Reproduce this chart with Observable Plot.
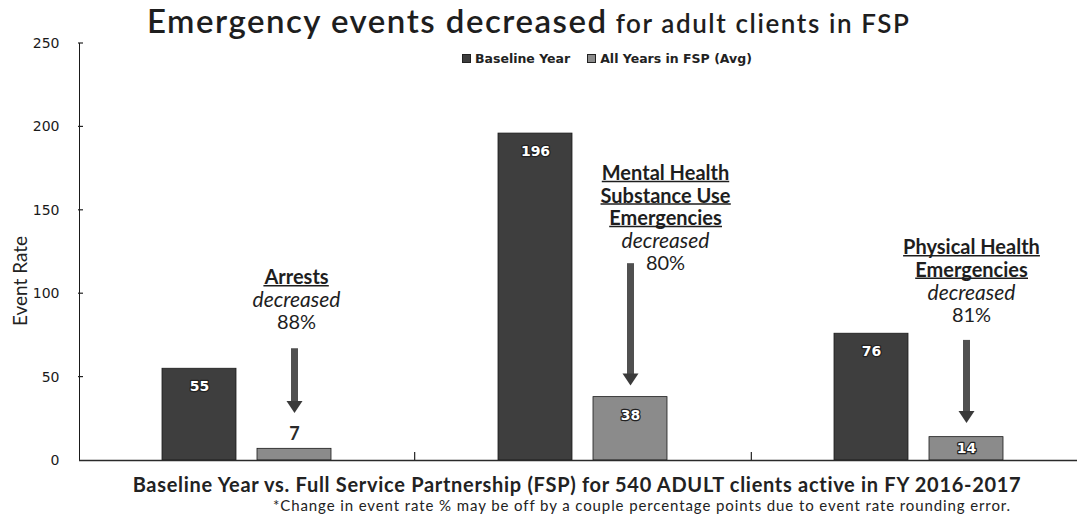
<!DOCTYPE html>
<html>
<head>
<meta charset="utf-8">
<script src="https://cdn.jsdelivr.net/npm/d3@7"></script>
<script src="https://cdn.jsdelivr.net/npm/@observablehq/plot@0.6"></script>
<style>
  html, body { margin: 0; padding: 0; background: #fff; }
  #wrap { position: relative; width: 1077px; height: 516px; background: #fff; overflow: hidden; font-family: Lato, "Open Sans", sans-serif; color: #1e1e1e; }
  #chart { position: absolute; left: 0; top: 0; }
  .abs { position: absolute; white-space: nowrap; }
  #title { left: 147px; top: 0px; line-height: normal; color: #1e1e1e; }
  #title .big { font-size: 33px; font-weight: 600; letter-spacing: 1.5px; }
  #title .small { font-size: 26px; font-weight: 600; letter-spacing: 1.6px; }
  #legend { left: 462px; top: 51px; font-family: "DejaVu Sans", sans-serif; font-weight: bold; font-size: 12.5px; color: #222; display: flex; gap: 17px; align-items: center; }
  #legend .item { display: flex; align-items: center; gap: 4px; }
  #legend .sw { width: 7px; height: 7px; border: 1px solid #222; }
  #ylabel { left: 19px; top: 281px; transform: translate(-50%, -50%) rotate(-90deg); font-size: 19px; color: #222; }
  #xlabel { left: 577px; top: 484px; transform: translate(-50%, -50%); font-size: 20px; font-weight: bold; letter-spacing: 0.7px; color: #222; }
  #foot { left: 642px; top: 505px; transform: translate(-50%, -50%); font-size: 15px; letter-spacing: 0.9px; color: #222; }
</style>
</head>
<body>
<div id="wrap">
  <div id="chart"></div>
  <div id="title" class="abs"><span class="big">Emergency events decreased</span><span class="small"> for adult clients in FSP</span></div>
  <div id="legend" class="abs"></div>
  <div id="ylabel" class="abs">Event Rate</div>
  <div id="xlabel" class="abs"></div>
  <div id="foot" class="abs"></div>
</div>
<script>
// ---------------- data ----------------
const groups = ["Arrests", "Mental Health Substance Use Emergencies", "Physical Health Emergencies"];
const series = ["Baseline Year", "All Years in FSP (Avg)"];
const baselineValues = [55, 196, 76];
const fspValues = [7, 38, 14];
const pctLabels = ["88%", "80%", "81%"];
const annoTitles = [["Arrests"], ["Mental Health", "Substance Use", "Emergencies"], ["Physical Health", "Emergencies"]];
const yTicks = [0, 50, 100, 150, 200, 250];
const xTitle = "Baseline Year vs. Full Service Partnership (FSP) for 540 ADULT clients active in FY 2016-2017";
const footnote = "*Change in event rate % may be off by a couple percentage points due to event rate rounding error.";

// ---------------- layout (annotation placement, in y units) ----------------
const annoLayout = [
  {top: 109.5, dx: 2, arrowTop: 67, arrowTip: 28.5},
  {top: 172, dx: 35, arrowTop: 118, arrowTip: 45},
  {top: 127.5, dx: 5, arrowTop: 72, arrowTip: 22.5}
];
const W = 1077, H = 470, mTop = 43, mBottom = 10, mLeft = 78;
const pxPerUnit = (H - mTop - mBottom) / 250;
const lineUnit = 22.5 / pxPerUnit;

const colors = ["#3e3e3e", "#8b8b8b"];

const rows = groups.flatMap((g, i) => [
  {group: g, series: series[0], value: baselineValues[i]},
  {group: g, series: series[1], value: fspValues[i]}
]);
const insideRows = rows.filter(d => d.value * pxPerUnit >= 30);
const midRows = rows.filter(d => d.value * pxPerUnit < 30 && d.value * pxPerUnit >= 18);
const aboveRows = rows.filter(d => d.value * pxPerUnit < 18);

// down-pointing triangle, anchored at its tip
const downTri = {
  draw(ctx, size) {
    const r = Math.sqrt(size / Math.PI);
    ctx.moveTo(0, 0);
    ctx.lineTo(-r, -1.5 * r);
    ctx.lineTo(r, -1.5 * r);
    ctx.closePath();
  }
};

const annoMarks = groups.flatMap((g, i) => {
  const L = annoLayout[i];
  const titles = annoTitles[i].map((t, k) => ({group: g, x: series[1], text: t, y: L.top - k * lineUnit}));
  const n = annoTitles[i].length;
  const dec = [{group: g, x: series[1], text: "decreased", y: L.top - n * lineUnit}];
  const pct = [{group: g, x: series[1], text: pctLabels[i], y: L.top - (n + 1) * lineUnit}];
  const arrow = [{group: g, x: series[1], y1: L.arrowTop, y2: L.arrowTip + 8 / pxPerUnit, tip: L.arrowTip}];
  const common = {fx: "group", x: "x", y: "y", text: "text", dx: L.dx, fontSize: 20, fill: "#1e1e1e", fontFamily: "Lato, sans-serif"};
  return [
    Plot.ruleX(arrow, {fx: "group", x: "x", y1: "y1", y2: "y2", stroke: "#505050", strokeWidth: 7}),
    Plot.dot(arrow, {fx: "group", x: "x", y: "tip", r: 8, symbol: downTri, fill: "#3a3a3a", stroke: "none"}),
    Plot.text(titles, {...common, fontWeight: "bold", ariaLabel: "anno-title"}),
    Plot.text(dec, {...common, fontStyle: "italic", fontSize: 21}),
    Plot.text(pct, {...common})
  ];
});

const chart = Plot.plot({
  width: W,
  height: H,
  marginTop: mTop,
  marginBottom: mBottom,
  marginLeft: mLeft,
  marginRight: 0,
  style: {fontFamily: "DejaVu Sans, sans-serif", fontSize: "14px", color: "#1a1a1a", background: "transparent"},
  fx: {domain: groups, range: [mLeft, 1088], paddingInner: 0, paddingOuter: 0, axis: null, label: null},
  x: {domain: series, paddingInner: 0.22, paddingOuter: 0.87, axis: null, label: null},
  y: {domain: [0, 250], ticks: yTicks, tickSize: 0, tickPadding: 20, line: true, label: null, tickFormat: d => String(d)},
  color: {domain: series, range: colors},
  marks: [
    Plot.barY(rows, {fx: "group", x: "series", y: "value", fill: "series", stroke: "#1a1a1a", strokeWidth: 0.8}),
    Plot.ruleY([0], {stroke: "#2a2a2a", strokeWidth: 1.5}),
    Plot.text(insideRows, {fx: "group", x: "series", y: "value", text: d => String(d.value), dy: 18, fill: "#fff", stroke: "#222", strokeWidth: 2.5, paintOrder: "stroke", fontWeight: "bold", fontSize: 14, fontFamily: "DejaVu Sans, sans-serif"}),
    Plot.text(midRows, {fx: "group", x: "series", y: d => d.value / 2, text: d => String(d.value), fill: "#fff", stroke: "#222", strokeWidth: 2.5, paintOrder: "stroke", fontWeight: "bold", fontSize: 14, fontFamily: "DejaVu Sans, sans-serif"}),
    Plot.text(aboveRows, {fx: "group", x: "series", y: "value", text: d => String(d.value), dy: -15, fill: "#2a2a2a", fontWeight: "bold", fontSize: 18, fontFamily: "Lato, sans-serif"}),
    ...annoMarks
  ]
});
document.getElementById("chart").appendChild(chart);

// inward y ticks and group boundary ticks, derived from the plot's scales
const svgEl = chart.tagName.toLowerCase() === "svg" ? chart : chart.querySelector("svg");
const svg = d3.select(svgEl);
const ys = chart.scale("y");
const yPx = v => ys.range[0] + (v - ys.domain[0]) / (ys.domain[1] - ys.domain[0]) * (ys.range[1] - ys.range[0]);
const fxs = chart.scale("fx");
const step = (fxs.range[1] - fxs.range[0]) / fxs.domain.length;
const extra = svg.append("g").attr("stroke", "#222").attr("stroke-width", 1.2);
yTicks.filter(t => t > 0).forEach(t => {
  extra.append("line").attr("x1", fxs.range[0]).attr("x2", fxs.range[0] + 5).attr("y1", yPx(t)).attr("y2", yPx(t));
});
d3.range(1, fxs.domain.length).forEach(k => {
  const x = fxs.range[0] + k * step;
  extra.append("line").attr("x1", x).attr("x2", x).attr("y1", yPx(0)).attr("y2", yPx(0) - 8);
});

// underline the annotation headings (measured from the rendered text)
const titleSet = new Set(annoTitles.flat());
svg.selectAll("text").each(function () {
  if (!titleSet.has(this.textContent)) return;
  const b = this.getBBox();
  const ctm = this.getCTM();
  const sctm = svgEl.getCTM();
  const m = sctm.inverse().multiply(ctm);
  const x1 = m.a * b.x + m.e, x2 = m.a * (b.x + b.width) + m.e;
  const yb = m.d * (b.y + b.height) + m.f - 2.5;
  extra.append("line").attr("x1", x1).attr("x2", x2).attr("y1", yb).attr("y2", yb).attr("stroke", "#1e1e1e").attr("stroke-width", 1.3);
});

// legend and captions
const legend = d3.select("#legend");
series.forEach((s, i) => {
  const it = legend.append("div").attr("class", "item");
  it.append("div").attr("class", "sw").style("background", colors[i]);
  it.append("span").text(s);
});
document.getElementById("xlabel").textContent = xTitle;
document.getElementById("foot").textContent = footnote;
</script>
</body>
</html>
